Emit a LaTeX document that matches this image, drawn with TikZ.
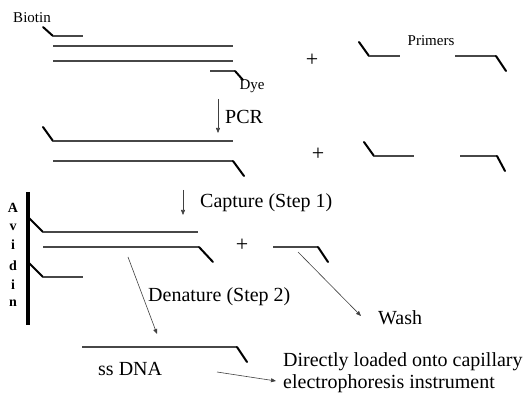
\documentclass[tikz,border=0pt]{standalone}
\usepackage{fontspec}
\setmainfont{Liberation Serif}
\usetikzlibrary{arrows.meta}
\begin{document}
\begin{tikzpicture}[x=1pt,y=-1pt,
 strand/.style={line width=1.4pt, draw=black!72},
 kink/.style={line width=2pt, draw=black, line cap=round},
 arr/.style={line width=0.6pt, draw=black!75, -{Triangle[length=5pt,width=4pt]}},
 lbl/.style={font=\fontsize{20}{23}\selectfont, inner sep=0pt},
 smalllbl/.style={font=\fontsize{15}{17}\selectfont, inner sep=0pt},
 av/.style={font=\bfseries\fontsize{14}{16}\selectfont, inner sep=0pt},
 plus/.style={font=\fontsize{22}{24}\selectfont, inner sep=0pt}]
\useasboundingbox (0,0) rectangle (528,395);

% ---- top row: template + primers
\node[smalllbl] (biotin) at (32,18) {Biotin};
\draw[kink] (43,27) -- (53,36);
\draw[strand] (53,36) -- (83,36);
\draw[strand] (53,46) -- (233,46);
\draw[strand] (53,61) -- (233,61);
\draw[strand] (210,71) -- (235,71);
\draw[kink] (235,71) -- (243,80);
\node[smalllbl] (dye) at (252,86) {Dye};
\node[plus] (plus1) at (312,60) {+};
\draw[kink] (359,42) -- (369,56);
\draw[strand] (369,56) -- (400,56);
\node[smalllbl] (primers) at (431,41) {Primers};
\draw[strand] (455,56) -- (496,56);
\draw[kink] (496,56) -- (506,71);

% ---- PCR
\coordinate (pcrA) at (218,99);
\coordinate (pcrB) at (218,133);
\draw[arr] (pcrA) -- (pcrB);
\node[lbl, anchor=west] (pcr) at (225,117) {PCR};

\draw[kink] (43,127) -- (53,141);
\draw[strand] (53,141) -- (233,141);
\draw[strand] (53,161) -- (233,161);
\draw[kink] (233,161) -- (244,176);
\node[plus] (plus2) at (318,154) {+};
\draw[kink] (364,142) -- (374,156);
\draw[strand] (374,156) -- (414,156);
\draw[strand] (460,156) -- (497,156);
\draw[kink] (497,156) -- (505,171);

% ---- Capture
\coordinate (capA) at (183,190);
\coordinate (capB) at (183,215);
\draw[arr] (capA) -- (capB);
\node[lbl, anchor=west] (capture) at (200,203) {Capture (Step 1)};

% Avidin bar
\draw[line width=3.6pt] (28,192) -- (28,325);
\node[av] (a1) at (13,208) {A};
\node[av] (a2) at (13,227) {v};
\node[av] (a3) at (13,245) {i};
\node[av] (a4) at (13,266) {d};
\node[av] (a5) at (13,285) {i};
\node[av] (a6) at (13,303) {n};

\draw[kink] (29,218) -- (43,232);
\draw[strand] (43,232) -- (198,232);
\draw[strand] (43,247) -- (199,247);
\draw[kink] (199,247) -- (213,262);
\draw[kink] (29,263) -- (43,277);
\draw[strand] (43,277) -- (83,277);
\node[plus] (plus3) at (242,245) {+};
\draw[strand] (273,247) -- (318,247);
\draw[kink] (318,247) -- (328,262);

% ---- Wash
\coordinate (washA) at (298,252);
\coordinate (washB) at (361,316);
\draw[arr] (washA) -- (washB);
\node[lbl, anchor=west] (wash) at (378,318) {Wash};

% ---- Denature
\coordinate (denA) at (128,257);
\coordinate (denB) at (157,334);
\draw[arr] (denA) -- (denB);
\node[lbl, anchor=west] (denature) at (148,297) {Denature (Step 2)};

% ---- ss DNA
\draw[strand] (82,347) -- (237,347);
\draw[kink] (237,347) -- (247,362);
\node[lbl, anchor=west] (ssdna) at (98,369) {ss DNA};
\coordinate (ssA) at (217,372);
\coordinate (ssB) at (276,381);
\draw[arr] (ssA) -- (ssB);
\node[lbl, anchor=west, align=left, font=\fontsize{20}{22}\selectfont] (load) at (283,373) {Directly loaded onto capillary\\electrophoresis instrument};
\end{tikzpicture}
\end{document}
